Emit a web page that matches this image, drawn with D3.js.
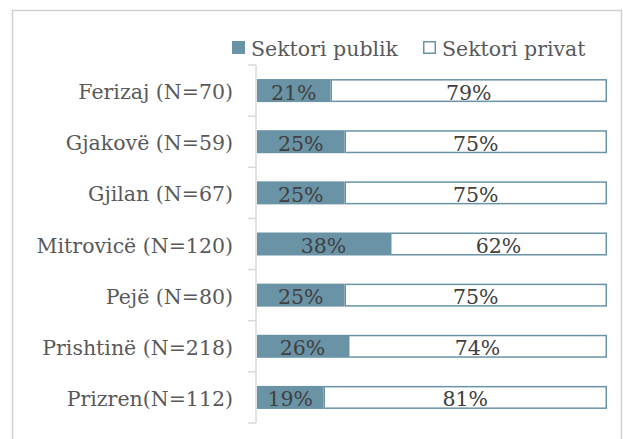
<!DOCTYPE html>
<html>
<head>
<meta charset="utf-8">
<script src="https://cdn.jsdelivr.net/npm/d3@7"></script>
<style>
  html, body { margin: 0; padding: 0; background: #fff; }
  svg { display: block; }
  text { font-family: "DejaVu Serif", Georgia, serif; }
</style>
</head>
<body>
<svg id="chart" width="623" height="439"></svg>
<script>
const categories = ["Ferizaj (N=70)", "Gjakovë (N=59)", "Gjilan (N=67)", "Mitrovicë (N=120)", "Pejë (N=80)", "Prishtinë (N=218)", "Prizren(N=112)"];
const publik = [21, 25, 25, 38, 25, 26, 19];
const privat = [79, 75, 75, 62, 75, 74, 81];
const seriesNames = ["Sektori publik", "Sektori privat"];

const colPublic = "#6a93a6";
const svg = d3.select("#chart");

// outer border
svg.append("rect").attr("x", 12.5).attr("y", 10.5).attr("width", 609).attr("height", 440)
  .attr("fill", "#fff").attr("stroke", "#d0d0d0").attr("stroke-width", 1.5);

const x = d3.scaleLinear().domain([0, 100]).range([257, 607]);
const y = d3.scaleBand().domain(categories).range([65, 423]).paddingInner(0.55).paddingOuter(0.275);

const data = categories.map((c, i) => ({ c, pub: publik[i], pri: privat[i] }));

// axis line and boundary ticks
const axisG = svg.append("g");
axisG.append("line").attr("x1", 256).attr("x2", 256).attr("y1", 65).attr("y2", 423)
  .attr("stroke", "#d9d9d9").attr("stroke-width", 1.5);
const bounds = d3.range(categories.length + 1).map(i => 65 + i * (358 / categories.length));
axisG.selectAll("line.tick").data(bounds).join("line").attr("class", "tick")
  .attr("x1", 248).attr("x2", 256).attr("y1", d => d).attr("y2", d => d)
  .attr("stroke", "#d9d9d9").attr("stroke-width", 1.5);

// category labels
svg.append("g").selectAll("text").data(data).join("text")
  .attr("x", 233).attr("y", d => y(d.c) + y.bandwidth() / 2 + 8.5)
  .attr("text-anchor", "end").attr("font-size", 20.5).attr("fill", "#595959")
  .text(d => d.c);

// bars
const bars = svg.append("g");
bars.selectAll("rect.pub").data(data).join("rect").attr("class", "pub")
  .attr("x", x(0)).attr("y", d => y(d.c))
  .attr("width", d => x(d.pub) - x(0)).attr("height", y.bandwidth())
  .attr("fill", colPublic);
bars.selectAll("rect.pri").data(data).join("rect").attr("class", "pri")
  .attr("x", d => x(d.pub) + 0.75).attr("y", d => y(d.c) + 0.75)
  .attr("width", d => x(d.pub + d.pri) - x(d.pub) - 1.5).attr("height", y.bandwidth() - 1.5)
  .attr("fill", "#fff").attr("stroke", colPublic).attr("stroke-width", 1.5);

// value labels
const lbl = svg.append("g").attr("font-size", 20.5).attr("fill", "#404040").attr("text-anchor", "middle");
lbl.selectAll("text.pub").data(data).join("text").attr("class", "pub")
  .attr("x", d => (x(0) + x(d.pub)) / 2).attr("y", d => y(d.c) + y.bandwidth() / 2 + 9)
  .text(d => d.pub + "%");
lbl.selectAll("text.pri").data(data).join("text").attr("class", "pri")
  .attr("x", d => (x(d.pub) + x(d.pub + d.pri)) / 2).attr("y", d => y(d.c) + y.bandwidth() / 2 + 9)
  .text(d => d.pri + "%");

// legend
const leg = svg.append("g");
leg.append("rect").attr("x", 232).attr("y", 41).attr("width", 13).attr("height", 13).attr("fill", colPublic);
leg.append("text").attr("x", 251).attr("y", 56).attr("font-size", 20.5).attr("fill", "#595959").text(seriesNames[0]);
leg.append("rect").attr("x", 423.75).attr("y", 41.75).attr("width", 11.5).attr("height", 11.5)
  .attr("fill", "#fff").attr("stroke", colPublic).attr("stroke-width", 1.5);
leg.append("text").attr("x", 442).attr("y", 56).attr("font-size", 20.5).attr("fill", "#595959").text(seriesNames[1]);
</script>
</body>
</html>
